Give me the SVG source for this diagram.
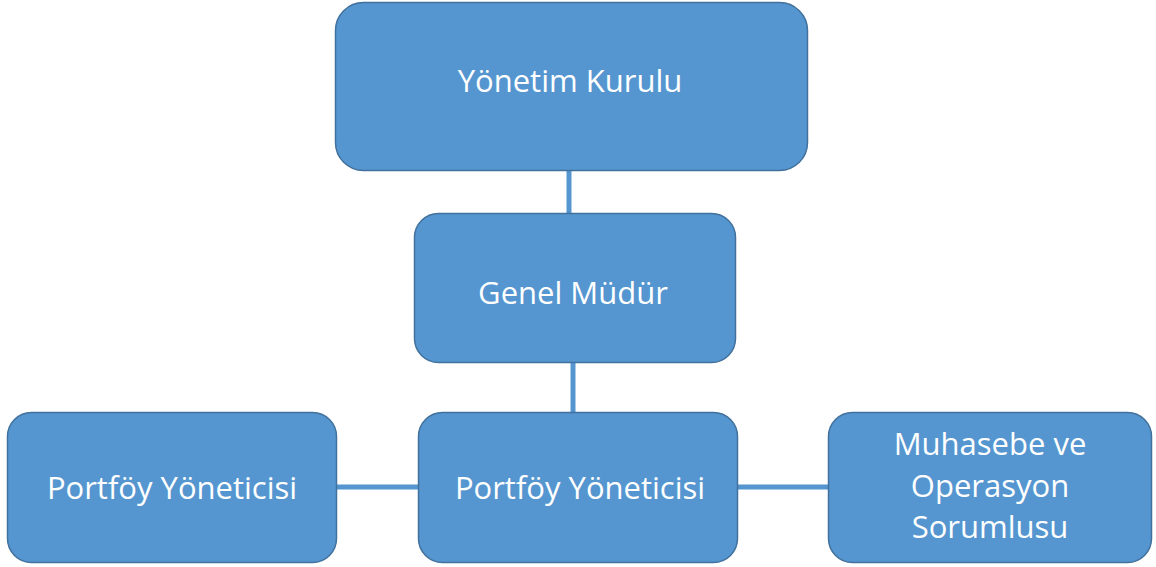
<svg xmlns="http://www.w3.org/2000/svg" width="1156" height="567" viewBox="0 0 1156 567">
<style>
.box{fill:#5596d0;stroke:#41719c;stroke-width:1.5}
.lbl{font-family:"Open Sans","Liberation Sans",sans-serif;font-size:31px;fill:#ffffff;text-anchor:middle}
.con{stroke:#5596d0;stroke-width:5;fill:none}
</style>
<rect width="1156" height="567" fill="#ffffff"/>
<g id="connectors">
<line class="con" x1="569" y1="170" x2="569" y2="214"/>
<line class="con" x1="573" y1="362" x2="573" y2="413"/>
<line class="con" x1="336" y1="487" x2="419" y2="487"/>
<line class="con" x1="737" y1="487" x2="829" y2="487"/>
</g>
<g id="yonetim-kurulu">
<rect class="box" x="335.5" y="2.5" width="472" height="168" rx="28"/>
<text class="lbl" x="570" y="92">Yönetim Kurulu</text>
</g>
<g id="genel-mudur">
<rect class="box" x="414.5" y="213.5" width="321" height="149" rx="24"/>
<text class="lbl" x="573" y="304">Genel Müdür</text>
</g>
<g id="portfoy-sol">
<rect class="box" x="7.5" y="412.5" width="329" height="150" rx="24"/>
<text class="lbl" x="172" y="499">Portföy Yöneticisi</text>
</g>
<g id="portfoy-orta">
<rect class="box" x="418.5" y="412.5" width="319" height="150" rx="24"/>
<text class="lbl" x="580" y="499">Portföy Yöneticisi</text>
</g>
<g id="muhasebe">
<rect class="box" x="828.5" y="412.5" width="323" height="150" rx="24"/>
<text class="lbl" x="990" y="455">Muhasebe ve</text>
<text class="lbl" x="990" y="497">Operasyon</text>
<text class="lbl" x="990" y="538">Sorumlusu</text>
</g>
</svg>
